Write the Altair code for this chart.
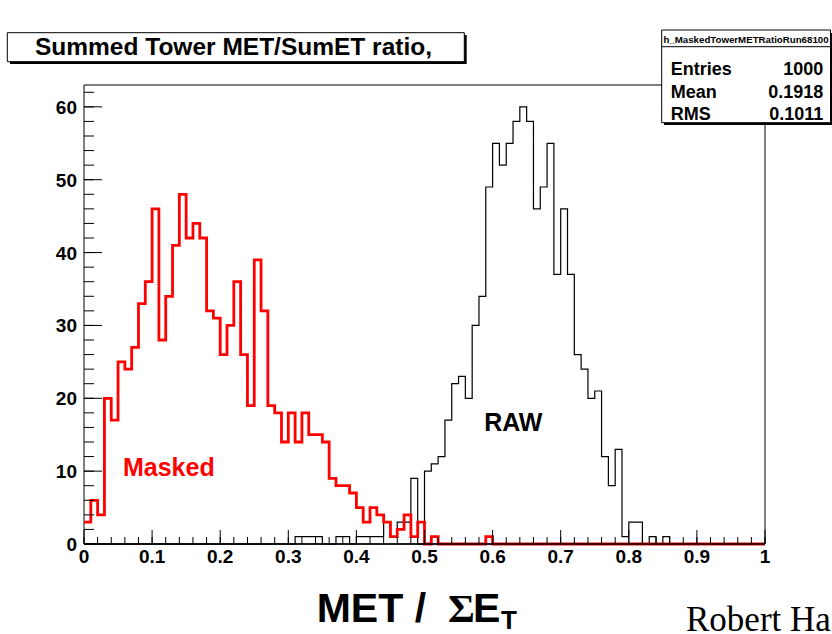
import altair as alt
import pandas as pd

# ---------------- data ----------------
bin_width = 0.01  # 100 bins over [0, 1]

masked_counts = [
    3, 6, 4, 20, 17, 25, 24, 27, 33, 36,
    46, 28, 34, 41, 48, 42, 44, 42, 32, 31,
    26, 30, 36, 26, 19, 39, 32, 19, 18, 14,
    18, 14, 18, 15, 15, 14, 9, 8, 8, 7,
    5, 3, 5, 4, 3, 1, 2, 4, 1, 3,
    0, 1, 0, 0, 0, 0, 0, 0, 0, 1,
    0, 0, 0, 0, 0, 0, 0, 0, 0, 0,
    0, 0, 0, 0, 0, 0, 0, 0, 0, 0,
    0, 0, 0, 0, 0, 0, 0, 0, 0, 0,
    0, 0, 0, 0, 0, 0, 0, 0, 0, 0,
]

raw_counts = [
    0, 0, 0, 0, 0, 0, 0, 0, 0, 0,
    0, 0, 0, 0, 0, 0, 0, 0, 0, 0,
    0, 0, 0, 0, 0, 0, 0, 0, 0, 0,
    0, 1, 1, 1, 1, 0, 0, 1, 1, 0,
    1, 1, 1, 1, 3, 1, 3, 3, 9, 0,
    10, 11, 12, 17, 22, 23, 20, 30, 34, 49,
    55, 52, 55, 58, 60, 58, 46, 49, 55, 37,
    46, 37, 26, 24, 20, 21, 12, 8, 13, 1,
    3, 3, 0, 1, 0, 1, 0, 0, 0, 0,
    0, 0, 0, 0, 0, 0, 0, 0, 0, 0,
]

x_major_ticks = [0, 0.1, 0.2, 0.3, 0.4, 0.5, 0.6, 0.7, 0.8, 0.9, 1.0]
x_tick_labels = ["0", "0.1", "0.2", "0.3", "0.4", "0.5", "0.6", "0.7", "0.8", "0.9", "1"]
x_minor_ticks = [round(0.02 * i, 2) for i in range(51)]
y_major_ticks = [0, 10, 20, 30, 40, 50, 60]
y_tick_labels = ["0", "10", "20", "30", "40", "50", "60"]
y_minor_ticks = [2 * i for i in range(32)]

title_text = "Summed Tower MET/SumET ratio,"
stats_name = "h_MaskedTowerMETRatioRun68100"
stats_labels = ["Entries", "Mean", "RMS"]
stats_values = ["1000", "0.1918", "0.1011"]

# ---------------- layout ----------------
W, H = 681, 459
FONT = "Liberation Sans"

edges = [round(i * bin_width, 2) for i in range(len(masked_counts) + 1)]
df_masked = pd.DataFrame({"x": edges, "n": masked_counts + [masked_counts[-1]]})
df_raw = pd.DataFrame({"x": edges, "n": raw_counts + [raw_counts[-1]]})
one = pd.DataFrame({"a": [0]})

xs = alt.Scale(domain=[0, 1], nice=False, zero=False)
ys = alt.Scale(domain=[0, 63], nice=False)

frame = alt.Chart(one).mark_rect(fill="white", stroke="black", strokeWidth=1).encode(
    x=alt.value(0), x2=alt.value(W), y=alt.value(0), y2=alt.value(H))

raw_line = alt.Chart(df_raw).mark_line(interpolate="step-after", color="black",
                                       strokeWidth=1.2).encode(
    x=alt.X("x:Q", scale=xs, axis=None),
    y=alt.Y("n:Q", scale=ys, axis=None))

masked_line = alt.Chart(df_masked).mark_line(interpolate="step-after", color="#ff0000",
                                             strokeWidth=2.8).encode(
    x=alt.X("x:Q", scale=xs, axis=None),
    y=alt.Y("n:Q", scale=ys, axis=None))

xmaj = alt.Chart(pd.DataFrame({"t": x_major_ticks})).mark_rule(color="black").encode(
    x=alt.X("t:Q", scale=xs, axis=None), y=alt.value(H), y2=alt.value(H - 14))
xmin = alt.Chart(pd.DataFrame({"t": x_minor_ticks})).mark_rule(color="black").encode(
    x=alt.X("t:Q", scale=xs, axis=None), y=alt.value(H), y2=alt.value(H - 7))
ymaj = alt.Chart(pd.DataFrame({"t": y_major_ticks})).mark_rule(color="black").encode(
    y=alt.Y("t:Q", scale=ys, axis=None), x=alt.value(0), x2=alt.value(18))
ymin = alt.Chart(pd.DataFrame({"t": y_minor_ticks})).mark_rule(color="black").encode(
    y=alt.Y("t:Q", scale=ys, axis=None), x=alt.value(0), x2=alt.value(10))
xaxis_line = alt.Chart(one).mark_rule(color="black", strokeWidth=1.5).encode(
    x=alt.value(0), x2=alt.value(W), y=alt.value(H))

xlabels = alt.Chart(pd.DataFrame({"t": x_major_ticks, "s": x_tick_labels})).mark_text(
    font=FONT, fontSize=19, fontWeight="bold", color="black", align="center",
    baseline="alphabetic").encode(
    x=alt.X("t:Q", scale=xs, axis=None), y=alt.value(H + 19), text="s:N")
ylabels = alt.Chart(pd.DataFrame({"t": y_major_ticks, "s": y_tick_labels})).mark_text(
    font=FONT, fontSize=19, fontWeight="bold", color="black", align="right",
    baseline="middle", dy=1).encode(
    y=alt.Y("t:Q", scale=ys, axis=None), x=alt.value(-7), text="s:N")


def txt(s, x, y, size, color="black", weight="bold", align="left", font=FONT):
    return alt.Chart(one).mark_text(text=s, font=font, fontSize=size, fontWeight=weight,
                                    color=color, align=align, baseline="alphabetic").encode(
        x=alt.value(x), y=alt.value(y))


masked_lbl = txt("Masked", 84.8, 391, 25, color="#ff0000", align="center")
raw_lbl = txt("RAW", 429.3, 345.7, 25, align="center")

# title box
title_shadow = alt.Chart(one).mark_rect(fill="black").encode(
    x=alt.value(-74), x2=alt.value(382.7), y=alt.value(-50), y2=alt.value(-21))
title_box = alt.Chart(one).mark_rect(fill="white", stroke="black", strokeWidth=1).encode(
    x=alt.value(-76.7), x2=alt.value(380.3), y=alt.value(-52.3), y2=alt.value(-23.3))
title_lbl = txt(title_text, 149.5, -30.5, 24.5, align="center")

# stats box
stats_shadow = alt.Chart(one).mark_rect(fill="black").encode(
    x=alt.value(580), x2=alt.value(760), y=alt.value(-52), y2=alt.value(40))
stats_box = alt.Chart(one).mark_rect(fill="white", stroke="black", strokeWidth=1).encode(
    x=alt.value(577.7), x2=alt.value(746.5), y=alt.value(-55), y2=alt.value(37.7))
stats_sep = alt.Chart(one).mark_rule(color="black").encode(
    x=alt.value(577.7), x2=alt.value(746.5), y=alt.value(-38.3))
stats_head = txt(stats_name, 662, -41.7, 9.7, align="center")
stats_rows = []
for i, (lab, val) in enumerate(zip(stats_labels, stats_values)):
    yy = -10 + 22.6 * i
    stats_rows.append(txt(lab, 586.7, yy, 18))
    stats_rows.append(txt(val, 739.3, yy, 18, align="right"))

# x-axis title: MET / Sigma E_T
xt1 = txt("MET /", 232.7, 537, 41)
xt2 = txt("\u03a3", 364, 537, 41, weight="bold", font="Liberation Serif")
xt3 = txt("E", 389, 537, 41)
xt4 = txt("T", 417, 544, 26)

author = txt("Robert Ha", 602, 546, 35, weight="normal", font="Liberation Serif")

chart = alt.layer(
    frame, raw_line, masked_line, xaxis_line, xmaj, xmin, ymaj, ymin, xlabels, ylabels,
    masked_lbl, raw_lbl,
    title_shadow, title_box, title_lbl,
    stats_shadow, stats_box, stats_sep, stats_head, *stats_rows,
    xt1, xt2, xt3, xt4, author,
).properties(
    width=W, height=H,
    padding={"left": 84, "top": 85, "right": 67, "bottom": 90},
    autosize=alt.AutoSizeParams(type="none"),
    background="white",
).configure_view(strokeWidth=0)

chart.save("out.html", embed_options={"renderer": "svg", "actions": False})
